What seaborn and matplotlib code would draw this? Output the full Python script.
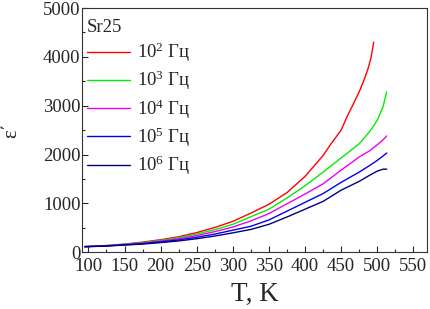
import numpy as np
import pandas as pd
import matplotlib
matplotlib.use("Agg")
import matplotlib.pyplot as plt
import seaborn as sns

sns.set_style("ticks")
plt.rcParams['font.family'] = ['Liberation Serif', 'DejaVu Serif']
plt.rcParams['mathtext.fontset'] = 'custom'
plt.rcParams['mathtext.rm'] = 'Liberation Serif'
plt.rcParams['mathtext.it'] = 'Liberation Serif'

# Data
T_red = [95, 125, 150, 175, 200, 225, 250, 275, 300, 325, 350, 375, 400, 425, 435, 450, 458, 467, 476, 482, 487, 491, 493, 495]
eps_red = [115, 135, 165, 205, 255, 315, 400, 505, 630, 800, 980, 1220, 1550, 1980, 2200, 2500, 2770, 3040, 3320, 3540, 3750, 3960, 4120, 4300]

T_other = [95, 125, 150, 175, 200, 225, 250, 275, 300, 325, 350, 375, 400, 425, 450, 475, 490, 500, 508, 513]
eps_green = [115, 133, 160, 195, 240, 295, 370, 460, 570, 725, 880, 1110, 1360, 1640, 1930, 2220, 2480, 2700, 2980, 3280]
eps_magenta = [113, 130, 155, 185, 225, 275, 340, 420, 515, 640, 790, 990, 1190, 1400, 1680, 1950, 2080, 2200, 2300, 2380]
eps_blue = [112, 128, 150, 175, 210, 250, 305, 370, 450, 530, 660, 840, 1020, 1200, 1430, 1640, 1780, 1880, 1970, 2030]
eps_navy = [110, 125, 145, 165, 195, 230, 275, 330, 395, 465, 570, 720, 880, 1040, 1270, 1450, 1580, 1660, 1700, 1700]

labels = [r"10$^{2}$ Гц", r"10$^{3}$ Гц", r"10$^{4}$ Гц", r"10$^{5}$ Гц", r"10$^{6}$ Гц"]
colors = ["#ff0000", "#00ee00", "#ee00ee", "#0000ee", "#000080"]

series = [(T_red, eps_red), (T_other, eps_green), (T_other, eps_magenta),
          (T_other, eps_blue), (T_other, eps_navy)]
rows = []
for lab, (tt, ee) in zip(labels, series):
    for t, e in zip(tt, ee):
        rows.append({"T": t, "eps": e, "freq": lab})
df = pd.DataFrame(rows)

fig = plt.figure(figsize=(4.31, 3.09), dpi=100)
ax = fig.add_axes([0.190, 0.184, 0.801, 0.790])

sns.lineplot(data=df, x="T", y="eps", hue="freq", hue_order=labels,
             palette=dict(zip(labels, colors)), linewidth=1.0, ax=ax,
             estimator=None, sort=False)

ax.set_xlim(91, 569)
ax.set_ylim(0, 5000)
ax.set_xticks(np.arange(100, 551, 50))
ax.set_xticks(np.arange(125, 551, 50), minor=True)
ax.set_yticks(np.arange(0, 5001, 1000))
ax.set_yticks(np.arange(500, 5000, 1000), minor=True)
ax.tick_params(which='both', direction='in', labelsize=13.5,
               top=False, right=False, width=0.8)
ax.tick_params(axis='x', pad=4)
ax.tick_params(axis='y', pad=1)
ax.tick_params(which='major', length=4)
ax.tick_params(which='minor', length=2.5)
for s in ax.spines.values():
    s.set_linewidth(0.8)
    s.set_color('#333333')

ax.set_xlabel("T, K", fontsize=19.5, labelpad=5)
ax.set_ylabel("ε΄", fontsize=15, labelpad=16)

leg = ax.legend(title="Sr25", loc="upper left", frameon=False, fontsize=13.5,
                title_fontsize=13.5, handlelength=2.3, handletextpad=0.4,
                labelspacing=0.26, borderaxespad=0.1, borderpad=0.15,
                alignment='left', bbox_to_anchor=(0.0, 0.975))
for line in leg.get_lines():
    line.set_linewidth(1.0)

fig.savefig("out.png", dpi=100)
